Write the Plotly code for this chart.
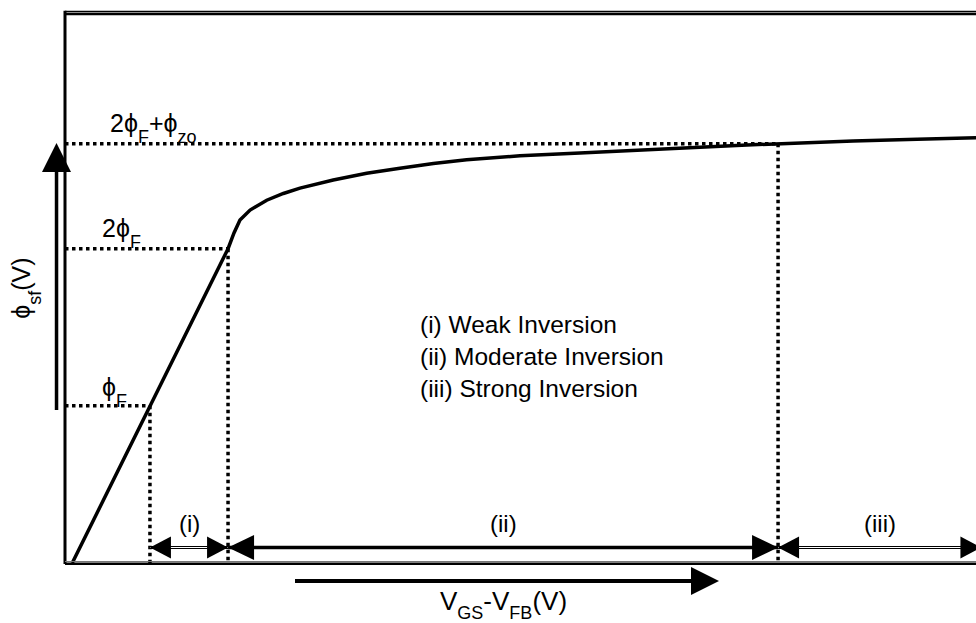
import plotly.graph_objects as go

# Surface potential phi_sf versus gate drive V_GS - V_FB (volts)
vg = [0.0, 0.430, 0.862, 0.895, 0.928, 0.984, 1.076, 1.168, 1.260, 1.444, 1.629,
      1.813, 1.998, 2.182, 2.348, 2.477, 2.809, 3.213, 3.473, 3.733, 3.905,
      4.320, 4.674, 5.0]
phi_sf = [0.0, 0.350, 0.700, 0.735, 0.764, 0.786, 0.808, 0.823, 0.835, 0.853, 0.868,
          0.879, 0.890, 0.898, 0.904, 0.907, 0.913, 0.922, 0.926, 0.931, 0.934,
          0.940, 0.944, 0.947]

# Operating regions along the gate-voltage axis
region_bounds = [0.430, 0.862, 3.905, 5.03]
region_labels = ["(i)", "(ii)", "(iii)"]
legend_lines = ["(i) Weak Inversion", "(ii) Moderate Inversion", "(iii) Strong Inversion"]

X_RANGE = [-0.04, 5.0]
Y_RANGE = [0.0, 1.225]
ARROW_Y = 0.0345
FONT = "Liberation Sans, Arial, sans-serif"
DOT = dict(color="black", width=3.5, dash="dot")


def sub(s, size=18, shift=11):
    """Lowered, reduced-size subscript."""
    return f'<span style="font-size:{size}px;baseline-shift:-{shift}px">{s}</span>'


# Reference potentials and the gate voltages where the curve reaches them
level_values = [0.35, 0.70, 0.934]
level_cross_vg = [0.430, 0.862, 3.905]
level_labels = ["ϕ" + sub("F"), "2ϕ" + sub("F"), "2ϕ" + sub("F") + "+ϕ" + sub("zo")]

fig = go.Figure()

# dotted guides: horizontal to the curve, then down to the axis
for lvl, xc in zip(level_values, level_cross_vg):
    fig.add_trace(go.Scatter(x=[X_RANGE[0], xc], y=[lvl, lvl], mode="lines", line=DOT,
                             hoverinfo="skip", showlegend=False))
    fig.add_trace(go.Scatter(x=[xc, xc], y=[lvl, 0], mode="lines", line=DOT,
                             hoverinfo="skip", showlegend=False))

# the surface-potential curve
fig.add_trace(go.Scatter(x=vg, y=phi_sf, mode="lines",
                         line=dict(color="black", width=3.5),
                         hoverinfo="skip", showlegend=False))

shapes = []


def head(xref, yref, xa, ya, direction, length, half):
    """Filled triangular arrowhead with its tip at (xa, ya), sized in pixels."""
    if direction == "left":
        p = f"M0,0 L{length},{half} L{length},{-half} Z"
    elif direction == "right":
        p = f"M0,0 L{-length},{half} L{-length},{-half} Z"
    else:  # up
        p = f"M0,0 L{half},{-length} L{-half},{-length} Z"
    return dict(type="path", xref=xref, yref=yref, xsizemode="pixel", ysizemode="pixel",
                xanchor=xa, yanchor=ya, path=p, fillcolor="black",
                line=dict(color="black", width=0), layer="above")


# region dimension arrows
for i, (x0, x1) in enumerate(zip(region_bounds[:-1], region_bounds[1:])):
    big = (i == 1)
    ln = 26 if big else 21
    hf = 12.5 if big else 11
    fig.add_trace(go.Scatter(x=[x0, x1], y=[ARROW_Y, ARROW_Y], mode="lines",
                             line=dict(color="black", width=3.5 if big else 3),
                             hoverinfo="skip", showlegend=False))
    if not big:
        fig.add_trace(go.Scatter(x=[x0, x1], y=[ARROW_Y, ARROW_Y], mode="lines",
                                 line=dict(color="white", width=1),
                                 hoverinfo="skip", showlegend=False))
    shapes.append(head("x", "y", x0, ARROW_Y, "left", ln, hf))
    shapes.append(head("x", "y", x1, ARROW_Y, "right", ln, hf))

# frame of the plotting area
shapes += [
    dict(type="line", xref="paper", yref="paper", x0=0, x1=0, y0=-0.002, y1=1.004,
         line=dict(color="black", width=3)),
    dict(type="line", xref="paper", yref="paper", x0=0, x1=1, y0=1.0027, y1=1.0027,
         line=dict(color="black", width=1.5)),
    dict(type="line", xref="paper", yref="paper", x0=0, x1=1, y0=0.998, y1=0.998,
         line=dict(color="black", width=2.5)),
    dict(type="line", xref="paper", yref="paper", x0=0, x1=1, y0=0.0027, y1=0.0027,
         line=dict(color="#777777", width=1)),
    dict(type="line", xref="paper", yref="paper", x0=0, x1=1, y0=-0.0015, y1=-0.0015,
         line=dict(color="black", width=2.5)),
]

# axis direction arrows outside the frame
shapes.append(dict(type="line", xref="paper", yref="paper",
                   x0=-0.0093, x1=-0.0093, y0=(563 - 410) / 550, y1=(563 - 168) / 550,
                   line=dict(color="black", width=3.5)))
shapes.append(head("paper", "paper", -0.0093, (563 - 143) / 550, "up", 29, 14.5))
shapes.append(dict(type="line", xref="paper", yref="paper",
                   x0=(295 - 65) / 911, x1=(695 - 65) / 911, y0=(563 - 581) / 550,
                   y1=(563 - 581) / 550, line=dict(color="black", width=4)))
shapes.append(head("paper", "paper", (719 - 65) / 911, (563 - 581) / 550, "right", 28, 14))

annotations = []
label_x = [0.154, 0.154, 0.198]
label_shift = [-7, -5, -5]
for txt, lvl, lx, sh in zip(level_labels, level_values, label_x, label_shift):
    annotations.append(dict(x=lx, y=lvl, xref="x", yref="y", text=txt, showarrow=False,
                            xanchor="left", yanchor="bottom", yshift=sh,
                            font=dict(family=FONT, size=25, color="black")))

for lab, x0, x1 in zip(region_labels, region_bounds[:-1], region_bounds[1:]):
    annotations.append(dict(x=(x0 + x1) / 2, y=0.089, xref="x", yref="y", text=lab,
                            showarrow=False, xanchor="center", yanchor="middle",
                            font=dict(family=FONT, size=24, color="black")))

annotations.append(dict(x=1.913, y=0.461, xref="x", yref="y", text="<br>".join(legend_lines),
                        showarrow=False, xanchor="left", yanchor="middle", align="left",
                        font=dict(family=FONT, size=24.5, color="black")))

annotations.append(dict(x=-0.043, y=0.5, xref="paper", yref="paper",
                        text="ϕ" + sub("sf") + "(V)", textangle=-90, showarrow=False,
                        xanchor="center", yanchor="middle",
                        font=dict(family=FONT, size=25, color="black")))
annotations.append(dict(x=(503 - 65) / 911, y=(563 - 604) / 550, xref="paper", yref="paper",
                        text="V" + sub("GS", 18, 9) + "-V" + sub("FB", 18, 9) + "(V)",
                        showarrow=False, xanchor="center", yanchor="middle",
                        font=dict(family=FONT, size=26, color="black")))

fig.update_layout(
    width=976, height=623,
    margin=dict(l=65, r=0, t=13, b=60),
    paper_bgcolor="white", plot_bgcolor="white",
    xaxis=dict(range=X_RANGE, visible=False, fixedrange=True),
    yaxis=dict(range=Y_RANGE, visible=False, fixedrange=True),
    shapes=shapes, annotations=annotations, showlegend=False,
)

fig.write_html("out.html", config={"displayModeBar": False})
